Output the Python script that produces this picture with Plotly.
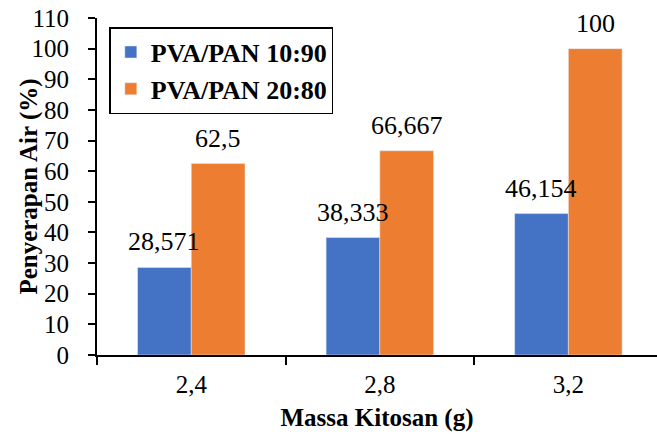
import plotly.graph_objects as go

categories = ["2,4", "2,8", "3,2"]
series_names = ["PVA/PAN 10:90", "PVA/PAN 20:80"]
values_1090 = [28.571, 38.333, 46.154]
values_2080 = [62.5, 66.667, 100]
labels_1090 = ["28,571", "38,333", "46,154"]
labels_2080 = ["62,5", "66,667", "100"]
colors = ["#4472C4", "#ED7D31"]

font_family = "Times New Roman, Liberation Serif, serif"

fig = go.Figure()
offsets = [-0.143, 0.143]
for i, (name, vals, labs, col) in enumerate(zip(series_names, [values_1090, values_2080],
                                                [labels_1090, labels_2080], colors)):
    fig.add_trace(go.Bar(
        x=categories, y=vals, name=name, marker_color=col,
    ))
    for j, (v, lab) in enumerate(zip(vals, labs)):
        fig.add_annotation(
            x=j + offsets[i], y=v, xref="x", yref="y", text=lab,
            showarrow=False, yanchor="bottom", yshift=9,
            font=dict(family=font_family, size=26, color="black"),
        )

fig.add_annotation(
    text="<b>Penyerapan Air (%)</b>", xref="paper", yref="paper",
    x=-0.123, y=0.5, xanchor="center", yanchor="middle", textangle=-90,
    showarrow=False, font=dict(family=font_family, size=25, color="black"),
)

fig.update_layout(
    width=657, height=434,
    margin=dict(l=97, r=0, t=18, b=79, autoexpand=False),
    paper_bgcolor="white", plot_bgcolor="white",
    barmode="group", bargap=0.43, bargroupgap=0,
    font=dict(family=font_family, size=25, color="black"),
    showlegend=True,
    legend=dict(
        x=0.022, y=0.973, xanchor="left", yanchor="top",
        bordercolor="black", borderwidth=1.5, bgcolor="white",
        font=dict(family=font_family, size=26, color="black", weight="bold"),
        itemwidth=30, tracegroupgap=0,
    ),
    xaxis=dict(
        range=[-0.5, 2.47], showline=True, linecolor="black", linewidth=2,
        ticks="outside", tickson="boundaries", ticklen=8, tickwidth=1.5,
        tickcolor="black", showgrid=False, automargin=False,
        tickfont=dict(family=font_family, size=25),
        ticklabelstandoff=6,
        title=dict(text="<b>Massa Kitosan (g)</b>", font=dict(family=font_family, size=25), standoff=11),
    ),
    yaxis=dict(
        range=[0, 110], dtick=10, showline=True, linecolor="black", linewidth=2,
        ticks="outside", ticklen=7, tickwidth=1.5, tickcolor="black",
        showgrid=False, zeroline=False, automargin=False,
        tickfont=dict(family=font_family, size=25),
        ticklabelstandoff=14,
    ),
)

fig.write_html("out.html", config={"displayModeBar": False},
               post_script="document.body.style.margin='0';document.body.style.padding='0';")
